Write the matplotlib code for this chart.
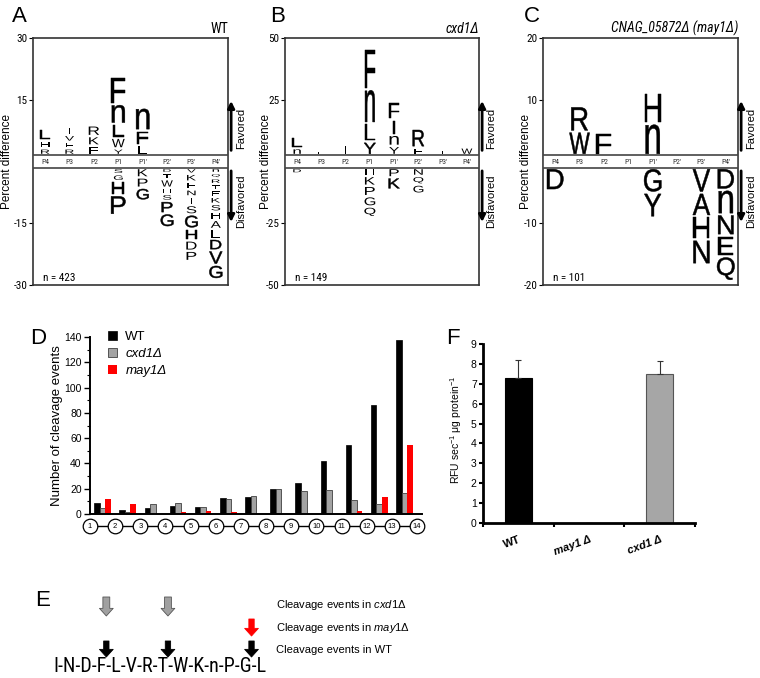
import numpy as np
import matplotlib.pyplot as plt
import matplotlib.ticker as ticker
from matplotlib.textpath import TextPath, TextToPath
from matplotlib.patches import PathPatch, Rectangle
from matplotlib.font_manager import FontProperties
from matplotlib.transforms import Affine2D

SANS = ['Liberation Sans', 'DejaVu Sans']
NARROW = ['Liberation Sans Narrow', 'Roboto Condensed', 'Noto Sans Condensed',
          'Liberation Sans', 'DejaVu Sans']
plt.rcParams['font.family'] = SANS
plt.rcParams['mathtext.fontset'] = 'custom'
plt.rcParams['mathtext.rm'] = 'Liberation Sans'
plt.rcParams['mathtext.it'] = 'Liberation Sans:italic'
plt.rcParams['mathtext.bf'] = 'Liberation Sans:bold'

# ---------------- data ----------------
positions = ['P4', 'P3', 'P2', 'P1', "P1'", "P2'", "P3'", "P4'"]

# sequence logos: favored letters listed top -> bottom, disfavored band -> down
wt_up = [
    [('L', 2.8), ('H', 1.9), ('R', 1.6)],
    [('I', 2.0), ('V', 1.7), ('F', 1.6), ('R', 1.6)],
    [('R', 2.6), ('K', 2.3), ('F', 2.3)],
    [('F', 6.5), ('n', 4.8), ('L', 3.4), ('W', 2.6), ('Y', 1.6)],
    [('n', 5.5), ('F', 3.6), ('L', 2.4)],
    [], [], [],
]
wt_down = [
    [], [], [],
    [('S', 1.5), ('G', 1.7), ('H', 3.4), ('P', 4.8)],
    [('K', 2.3), ('P', 2.5), ('G', 3.1)],
    [('D', 1.2), ('T', 1.5), ('W', 2.1), ('H', 1.5), ('S', 1.7), ('P', 3.0), ('G', 3.4)],
    [('V', 1.4), ('K', 1.9), ('E', 1.9), ('N', 1.7), ('T', 2.1), ('S', 2.3), ('G', 3.4),
     ('H', 2.9), ('D', 2.5), ('P', 2.5)],
    [('n', 1.2), ('Q', 1.3), ('R', 1.4), ('T', 1.5), ('F', 1.6), ('K', 1.7), ('S', 1.9),
     ('H', 2.0), ('A', 2.2), ('L', 2.4), ('D', 2.8), ('V', 3.5), ('G', 3.5)],
]

cxd1_up = [
    [('L', 4.7), ('n', 2.8)],
    [('F', 1.6)],
    [('I', 4.1)],
    [('F', 16.3), ('n', 13.8), ('L', 7.5), ('Y', 5.4)],
    [('F', 7.0), ('I', 6.2), ('n', 4.5), ('Y', 3.7)],
    [('R', 7.5), ('F', 3.1)],
    [('I', 2.0)],
    [('W', 3.1)],
]
cxd1_down = [
    [('D', 2.2)],
    [], [],
    [('H', 3.2), ('K', 4.0), ('P', 4.2), ('G', 4.2), ('Q', 4.3)],
    [('P', 3.8), ('K', 4.9)],
    [('N', 3.2), ('Q', 3.5), ('G', 3.7)],
    [], [],
]

may1_up = [
    [],
    [('R', 4.1), ('W', 3.8)],
    [('F', 3.6)],
    [],
    [('H', 5.0), ('n', 5.1)],
    [], [], [],
]
may1_down = [
    [('D', 3.6)],
    [], [], [],
    [('G', 4.0), ('Y', 4.0)],
    [],
    [('V', 4.0), ('A', 3.8), ('H', 3.8), ('N', 4.0)],
    [('D', 3.5), ('n', 4.0), ('N', 3.4), ('E', 3.4), ('Q', 4.0)],
]

# cleavage events per site (between residue i and i+1)
residues = ['1', '2', '3', '4', '5', '6', '7', '8', '9', '10', '11', '12', '13', '14']
d_wt = [8.7, 3.4, 4.7, 6.6, 5.5, 12.4, 13.5, 19.5, 24.5, 41.7, 54.9, 86.3, 138]
d_cxd1 = [4.7, 1.8, 7.9, 8.7, 5.5, 11.9, 14.0, 19.5, 17.9, 19.0, 11.1, 7.9, 16.6]
d_may1 = [11.9, 7.7, 0.3, 1.6, 2.4, 1.5, 0, 0, 0, 0, 2.6, 13.5, 54.9]

# activity
f_labels = ['WT', 'may1 Δ', 'cxd1 Δ']
f_vals = [7.3, 0, 7.5]
f_err = [0.9, 0, 0.65]

# peptide and cleavage sites (after residue number)
peptide = ['I', 'N', 'D', 'F', 'L', 'V', 'R', 'T', 'W', 'K', 'n', 'P', 'G', 'L']
sites_wt = [4, 8, 13]
sites_cxd1 = [4, 8]
sites_may1 = [13]

# ---------------- figure ----------------
W, H = 760, 678
fig = plt.figure(figsize=(W / 100, H / 100), dpi=100)


def rect(x0, y0, x1, y1):
    # pixel box (top-left origin) -> figure fraction
    return [x0 / W, 1 - y1 / H, (x1 - x0) / W, (y1 - y0) / H]


def ftext(x, y, s, **kw):
    fig.text(x / W, 1 - y / H, s, **kw)


LOGO_FP = FontProperties(family='Liberation Sans')
H_WIDTH = TextPath((0, 0), 'H', size=1, prop=LOGO_FP).get_extents().width


def draw_letter(ax, ch, xc, y0, slot, ppu, col_px, wcap):
    pad = 2.4 / ppu
    h = slot - pad
    if h <= 0:
        return
    tp = TextPath((0, 0), ch, size=1, prop=LOGO_FP)
    bb = tp.get_extents()
    h_px = h * ppu
    ratio = bb.width / H_WIDTH
    w_px = min(6 + 0.5 * h_px, wcap) * ratio ** (0.45 if ratio > 0.5 else 1.0)
    sx = (w_px / col_px) / bb.width
    sy = h / bb.height
    tr = (Affine2D().translate(-bb.x0 - bb.width / 2, -bb.y0)
          .scale(sx, sy).translate(xc, y0 + pad / 2))
    big = h_px > 9
    ax.add_patch(PathPatch(tr.transform_path(tp), fc='black',
                           ec='black' if big else 'none', lw=0.35 if big else 0,
                           zorder=2))


def logo_panel(box, up, down, lim, title, n_text, wcap, ylab_x):
    ax = fig.add_axes(rect(*box))
    ax.set_xlim(0, 8)
    ax.set_ylim(-lim, lim)
    bb = ax.get_window_extent()
    ppu = bb.height / (2 * lim)
    col_px = bb.width / 8
    band = 6.5 / ppu
    ax.add_patch(Rectangle((0, -band), 8, 2 * band, fc='white', ec='#444444',
                           lw=1.2, zorder=3))
    for i, p in enumerate(positions):
        ax.text(i + 0.5, 0, p, ha='center', va='center', fontsize=5.5,
                family=NARROW, color='#333333', zorder=4)
        y = band
        for ch, v in reversed(up[i]):
            draw_letter(ax, ch, i + 0.5, y, v, ppu, col_px, wcap)
            y += v
        y = -band
        for ch, v in down[i]:
            draw_letter(ax, ch, i + 0.5, y - v, v, ppu, col_px, wcap)
            y -= v
    for s in ax.spines.values():
        s.set_color('#333333')
        s.set_linewidth(1.2)
    ax.set_xticks([])
    ax.set_yticks([-lim, -lim / 2, lim / 2, lim])
    ax.yaxis.set_major_formatter(ticker.FormatStrFormatter('%d'))
    ax.tick_params(axis='y', direction='out', length=3, labelsize=8, pad=1)
    for t in ax.get_yticklabels():
        t.set_family(NARROW)
    ax.set_ylabel('Percent difference', fontsize=8.5)
    ax.yaxis.set_label_coords(ylab_x, 0.5)
    ax.text(1.0, 1.008, title, transform=ax.transAxes, ha='right', va='bottom',
            fontsize=10, family=NARROW, style='italic' if title != 'WT' else 'normal')
    ax.text(0.05, 0.01, n_text, transform=ax.transAxes, ha='left', va='bottom',
            fontsize=8, family=NARROW)
    arrow = dict(arrowstyle='-|>', lw=2, color='black', mutation_scale=10,
                 shrinkA=0, shrinkB=0)
    ax.annotate('', xy=(1.016, 0.745), xytext=(1.016, 0.545), xycoords='axes fraction',
                arrowprops=arrow, annotation_clip=False)
    ax.annotate('', xy=(1.016, 0.255), xytext=(1.016, 0.462), xycoords='axes fraction',
                arrowprops=arrow, annotation_clip=False)
    ax.text(1.065, 0.635, 'Favored', transform=ax.transAxes, rotation=90,
            ha='center', va='center', fontsize=8)
    ax.text(1.065, 0.34, 'Disfavored', transform=ax.transAxes, rotation=90,
            ha='center', va='center', fontsize=8)
    return ax


logo_panel((33, 38, 228, 285), wt_up, wt_down, 30, 'WT', 'n = 423', 15, -0.105)
logo_panel((285, 38, 479, 285), cxd1_up, cxd1_down, 50, 'cxd1Δ', 'n = 149', 11, -0.067)
logo_panel((543, 38, 738, 285), may1_up, may1_down, 20, 'CNAG_05872Δ (may1Δ)',
           'n = 101', 16, -0.056)

# ---------------- panel D ----------------
axd = fig.add_axes(rect(90, 337, 422, 514))
site_x = np.arange(1, len(d_wt) + 1) + 0.5
bw = 0.22
axd.bar(site_x - bw, d_wt, bw, color='black', edgecolor='black', lw=0.5, label='WT')
axd.bar(site_x, d_cxd1, bw, color='#a3a3a3', edgecolor='#404040', lw=0.6, label='cxd1Δ')
axd.bar(site_x + bw, d_may1, bw, color='#ff0000', edgecolor='none', label='may1Δ')
axd.set_xlim(1.0, 14.2)
axd.set_ylim(0, 140)
axd.set_yticks(np.arange(0, 141, 20))
axd.yaxis.set_minor_locator(ticker.MultipleLocator(10))
axd.set_xticks([])
for s in ['top', 'right']:
    axd.spines[s].set_visible(False)
for s in ['left', 'bottom']:
    axd.spines[s].set_linewidth(1.4)
axd.tick_params(axis='y', which='major', length=4, width=1, labelsize=7.5, pad=2)
axd.tick_params(axis='y', which='minor', length=2, width=0.8)
axd.set_ylabel('Number of cleavage events', fontsize=9.5, labelpad=1)
res_x = np.arange(1, len(residues) + 1)
yb = axd.get_xaxis_transform()
axd.plot(res_x, [-0.068] * len(res_x), color='black', lw=1, transform=yb, clip_on=False)
axd.plot(res_x, [-0.068] * len(res_x), ls='none', marker='o', ms=10.5, mfc='white',
         mec='black', mew=0.9, transform=yb, clip_on=False)
for xx, lab in zip(res_x, residues):
    axd.text(xx, -0.068, lab, transform=yb, ha='center', va='center', fontsize=5.5)
leg = axd.legend(loc='upper left', bbox_to_anchor=(0.055, 1.035), frameon=False,
                 fontsize=9.5, handlelength=0.7, handleheight=0.7, handletextpad=0.6,
                 labelspacing=0.35, borderpad=0, borderaxespad=0)
for t in leg.get_texts()[1:]:
    t.set_style('italic')

# ---------------- panel F ----------------
axf = fig.add_axes(rect(483, 344, 695, 523))
fx = np.arange(len(f_labels)) + 0.5
axf.bar(fx, f_vals, 0.38, color=['black', '#ff0000', '#a6a6a6'],
        edgecolor=['black', '#ff0000', '#555555'], lw=0.8)
axf.errorbar(fx, f_vals, yerr=[[0] * len(f_err), f_err], fmt='none', ecolor='#333333',
             elinewidth=0.8, capsize=2, capthick=0.8)
axf.set_xlim(0, 3)
axf.set_ylim(0, 9)
axf.set_yticks(range(0, 10))
axf.set_xticks([0, 1, 2, 3])
axf.set_xticklabels([])
axf.set_xticks(fx, minor=True)
axf.set_xticklabels(f_labels, minor=True, rotation=20, ha='right',
                    rotation_mode='anchor', fontweight='bold', fontsize=8)
for t in axf.get_xticklabels(minor=True)[1:]:
    t.set_style('italic')
axf.tick_params(axis='x', which='minor', length=0, pad=8)
axf.tick_params(axis='x', which='major', length=3, width=1.5)
axf.tick_params(axis='y', length=3, width=1.5, labelsize=7.5, pad=1.5)
for s in ['top', 'right']:
    axf.spines[s].set_visible(False)
for s in ['left', 'bottom']:
    axf.spines[s].set_linewidth(2)
axf.set_ylabel('RFU sec$^{-1}$ μg protein$^{-1}$', fontsize=7.5)
axf.yaxis.set_label_coords(-0.09, 0.52)

# ---------------- panel E ----------------
axe = fig.add_axes([0, 0, 1, 1], zorder=-1)
axe.set_xlim(0, W)
axe.set_ylim(H, 0)
axe.axis('off')

seq_str = '-'.join(peptide)
seq_x0, seq_w = 53, 213
t2p = TextToPath()
fp10 = FontProperties(family=NARROW, size=10)
w10 = t2p.get_text_width_height_descent(seq_str, fp10, ismath=False)[0] * 100 / 72
seq_fs = 10 * seq_w / w10
seq_fp = FontProperties(family=NARROW, size=seq_fs)
axe.text(seq_x0, 666, seq_str, ha='left', va='center', fontproperties=seq_fp)


def site_px(s):
    prefix = '-'.join(peptide[:s])
    w = t2p.get_text_width_height_descent(prefix, seq_fp, ismath=False)[0] * 100 / 72
    return seq_x0 + w


def site_arrows(sites, y_tail, y_tip, fc, ec, tw):
    for s in sites:
        x = site_px(s)
        axe.annotate('', xy=(x, y_tip), xytext=(x, y_tail),
                     arrowprops=dict(arrowstyle='simple,head_length=0.5,head_width=0.9,'
                                                'tail_width=%.2f' % tw,
                                     fc=fc, ec=ec, lw=0.6, mutation_scale=11,
                                     shrinkA=0, shrinkB=0))


site_arrows(sites_cxd1, 597, 616, '#a0a0a0', '#555555', 0.45)
site_arrows(sites_may1, 619, 636, '#ff0000', '#ff0000', 0.35)
site_arrows(sites_wt, 641, 657, 'black', 'black', 0.35)

ftext(276, 605, r'Cleavage events in $\it{cxd1}$Δ', fontsize=8, va='center')
ftext(276, 628, r'Cleavage events in $\it{may1}$Δ', fontsize=8, va='center')
ftext(276, 650, 'Cleavage events in WT', fontsize=8, va='center')

# panel letters
for lab, x, y in [('A', 12, 6), ('B', 270, 6), ('C', 524, 6), ('D', 30, 328),
                  ('F', 446, 328), ('E', 35, 590)]:
    ftext(x, y, lab, fontsize=16, va='top', ha='left')

fig.savefig('out.png', dpi=100)
